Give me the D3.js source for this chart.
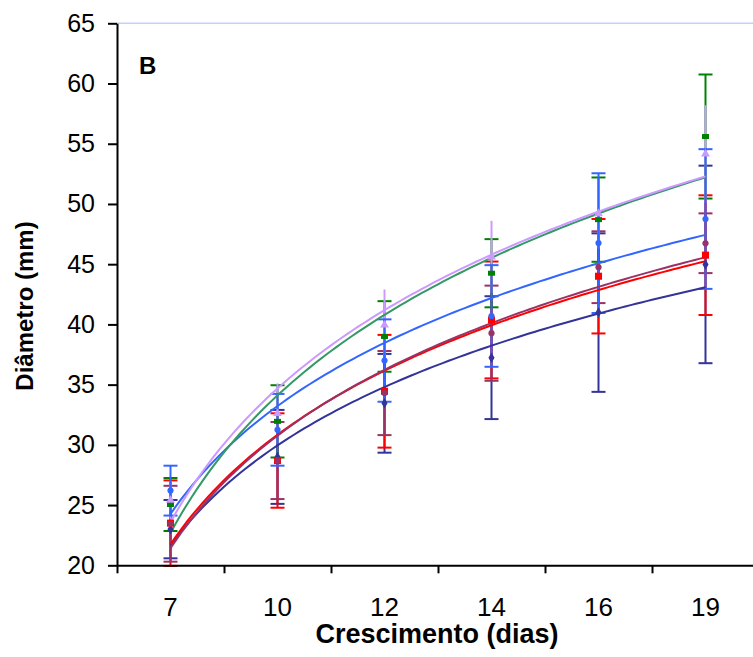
<!DOCTYPE html>
<html>
<head>
<meta charset="utf-8">
<script src="https://cdn.jsdelivr.net/npm/d3@7"></script>
<style>
  body { margin: 0; background: #fff; }
  text { font-family: "Liberation Sans", Arial, sans-serif; fill: #000; }
</style>
</head>
<body>
<div id="chart"></div>
<script>
// growth days (categories) and y ticks
var days = ["7", "10", "12", "14", "16", "19"];
var yTicks = [20, 25, 30, 35, 40, 45, 50, 55, 60, 65];

// means and standard deviations per treatment
var greenMean = [25.05, 31.95, 39.0, 44.25, 48.7, 55.6];
var greenSd   = [2.2, 3.0, 2.93, 2.83, 3.5, 5.15];

var lilacMean = [25.4, 32.6, 39.95, 45.6, 49.2, 54.15];
var lilacSd   = [1.6, 2.5, 2.95, 3.0, 2.9, 4.05];

var blueMean  = [26.2, 31.25, 37.0, 40.7, 46.75, 48.75];
var blueSd    = [2.07, 2.98, 3.42, 4.22, 5.8, 5.8];

var redMean   = [23.5, 28.7, 34.45, 40.37, 44.0, 45.75];
var redSd     = [3.55, 3.92, 4.68, 4.85, 4.75, 4.97];

var wineMean  = [23.45, 28.7, 34.3, 39.27, 44.75, 46.74];
var wineSd    = [3.15, 3.2, 3.49, 3.95, 2.98, 2.48];

var navyMean  = [23.0, 29.0, 33.45, 37.24, 40.98, 44.98];
var navySd    = [2.42, 3.9, 4.1, 5.1, 6.58, 8.2];

var width = 753, height = 657;
var svg = d3.select("#chart").append("svg")
	.attr("width", width)
	.attr("height", height);

var plotLeft = 117, plotRight = 759, plotTop = 23.3, plotBottom = 565.3;

var y = d3.scaleLinear().domain([20, 65]).range([plotBottom, plotTop]);
var xBand = d3.scaleBand().domain(days).range([plotLeft, plotRight]).padding(0);
var xEdge = d3.scaleLinear().domain([0, days.length]).range([plotLeft, plotRight]);
function cx(i){ return xBand(days[i]) + xBand.bandwidth()/2; }
// continuous x for trendline (category index 1..6)
var xIdx = d3.scaleLinear().domain([1, days.length]).range([cx(0), cx(days.length-1)]);

// Excel style logarithmic trendline y = a*ln(x) + b
function logFit(vals){
	var n = vals.length, lx = vals.map(function(v,i){ return Math.log(i+1); });
	var mx = d3.mean(lx), my = d3.mean(vals);
	var sxy = 0, sxx = 0;
	for(var i = 0; i < n; i++){
		sxy += (lx[i]-mx)*(vals[i]-my);
		sxx += (lx[i]-mx)*(lx[i]-mx);
	}
	var a = sxy/sxx;
	return {a: a, b: my - a*mx};
}

var series = [
	{mean: navyMean,  sd: navySd,  bar: "#333399", trend: "#333399", marker: "diamond"},
	{mean: redMean,   sd: redSd,   bar: "#ff0000", trend: "#ff0000", marker: "square"},
	{mean: wineMean,  sd: wineSd,  bar: "#993366", trend: "#993366", marker: "circle"},
	{mean: greenMean, sd: greenSd, bar: "#008000", trend: "#339966", marker: "rect"},
	{mean: lilacMean, sd: lilacSd, bar: "#cc99ff", trend: "#cc99ff", marker: "triangle", nocap: true},
	{mean: blueMean,  sd: blueSd,  bar: "#3366ff", trend: "#3366ff", marker: "circle"}
];

// top border of plot area
svg.append("line")
	.attr("x1", plotLeft).attr("x2", width)
	.attr("y1", plotTop).attr("y2", plotTop)
	.attr("stroke", "#c4d0ff").attr("stroke-width", 1.5);

// error bars
var capW = 7;
series.forEach(function(s){
	var g = svg.append("g").attr("stroke", s.bar).attr("stroke-width", 2);
	s.mean.forEach(function(m, i){
		var x = cx(i), hi = y(m + s.sd[i]), lo = y(m - s.sd[i]);
		g.append("line").attr("x1", x).attr("x2", x).attr("y1", hi).attr("y2", lo);
		if(!s.nocap){
			g.append("line").attr("x1", x-capW).attr("x2", x+capW).attr("y1", hi).attr("y2", hi);
			g.append("line").attr("x1", x-capW).attr("x2", x+capW).attr("y1", lo).attr("y2", lo);
		}
	});
});

// trend lines
var trendOrder = [0, 1, 2, 5, 3, 4];
var line = d3.line()
	.x(function(d){ return xIdx(d[0]); })
	.y(function(d){ return y(d[1]); });
trendOrder.forEach(function(k){
	var s = series[k], f = logFit(s.mean);
	var pts = d3.range(1, 6.001, 0.05).map(function(t){ return [t, f.a*Math.log(t) + f.b]; });
	svg.append("path")
		.attr("d", line(pts))
		.attr("fill", "none")
		.attr("stroke", s.trend)
		.attr("stroke-width", 2);
});

// markers
var symbols = {
	diamond: d3.symbol().type(d3.symbolDiamond).size(32),
	square: d3.symbol().type(d3.symbolSquare).size(50),
	circle: d3.symbol().type(d3.symbolCircle).size(30),
	triangle: d3.symbol().type(d3.symbolTriangle).size(34)
};
series.forEach(function(s){
	s.mean.forEach(function(m, i){
		if(s.marker === "rect"){
			svg.append("rect")
				.attr("x", cx(i)-3.5).attr("y", y(m)-2.5)
				.attr("width", 7).attr("height", 5)
				.attr("fill", s.bar);
		} else {
			svg.append("path")
				.attr("d", symbols[s.marker]())
				.attr("transform", "translate(" + cx(i) + "," + y(m) + ")")
				.attr("fill", s.bar);
		}
	});
});

// axes
var yAxis = svg.append("g")
	.attr("transform", "translate(" + plotLeft + ",0)")
	.call(d3.axisLeft(y).tickValues(yTicks).tickSize(9).tickSizeOuter(0).tickPadding(13));
yAxis.selectAll("text").style("font-size", "25px");

var xTicks = svg.append("g")
	.attr("transform", "translate(0," + plotBottom + ")")
	.call(d3.axisBottom(xEdge).tickValues(d3.range(0, days.length+1)).tickFormat("").tickSize(8).tickSizeOuter(0));

var xAxis = svg.append("g")
	.attr("transform", "translate(0," + plotBottom + ")")
	.call(d3.axisBottom(xBand).tickSize(0).tickPadding(32));
xAxis.select(".domain").remove();
xAxis.selectAll("text").style("font-size", "26px");

svg.selectAll(".domain, .tick line")
	.attr("stroke", "#000")
	.attr("stroke-width", 2);

// titles
svg.append("text")
	.attr("x", (plotLeft + plotRight)/2 - 1).attr("y", 643)
	.attr("text-anchor", "middle")
	.style("font-size", "27px").style("font-weight", "bold")
	.text("Crescimento (dias)");

svg.append("text")
	.attr("transform", "translate(33,306) rotate(-90)")
	.attr("text-anchor", "middle")
	.style("font-size", "24px").style("font-weight", "bold")
	.text("Diâmetro (mm)");

svg.append("text")
	.attr("x", 139).attr("y", 74)
	.style("font-size", "24px").style("font-weight", "bold")
	.text("B");
</script>
</body>
</html>
